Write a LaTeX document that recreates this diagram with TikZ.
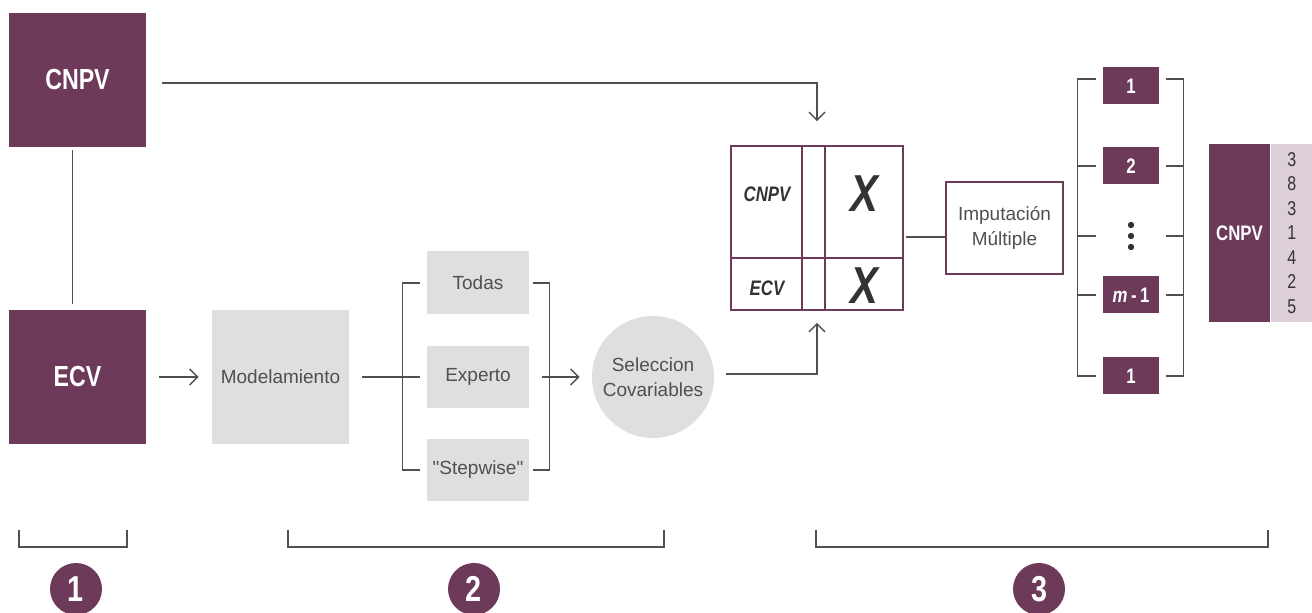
\documentclass[tikz,border=0pt]{standalone}
\usepackage{fontspec}
\setmainfont{Liberation Sans}
\newfontfamily\condfont{Liberation Sans}[FakeStretch=0.8]
\usetikzlibrary{positioning,arrows.meta}
\definecolor{plum}{RGB}{109,58,90}
\definecolor{plumwash}{RGB}{220,207,215}
\definecolor{stone}{RGB}{224,222,223}
\definecolor{ink}{RGB}{80,80,80}

\begin{document}
\begin{tikzpicture}[x=0.5pt, y=-0.5pt,
		link/.style={draw=ink, line width=0.7pt},
		arr/.style={link, -{Straight Barb[length=4pt, width=8pt]}},
		source/.style={fill=plum, text=white, minimum width=68.5pt, minimum height=67pt,
		               inner sep=0pt, font=\condfont\bfseries\fontsize{14.5}{16}\selectfont},
		stage/.style={fill=stone, text=ink, inner sep=0pt, align=center,
		              font=\fontsize{9.5}{12.5}\selectfont},
		cellx/.style={text=black!80, font=\condfont\bfseries\itshape\fontsize{26}{26}\selectfont},
		celltag/.style={text=black!80, font=\condfont\bfseries\itshape\fontsize{10.5}{12}\selectfont},
		run/.style={fill=plum, text=white, minimum width=28pt, minimum height=18.5pt,
		            inner sep=0pt, font=\condfont\bfseries\fontsize{10.5}{12}\selectfont},
		badge/.style={circle, fill=plum, text=white, minimum size=26pt, inner sep=0pt,
		              font=\condfont\bfseries\fontsize{18}{18}\selectfont}]
		\useasboundingbox (0,0) rectangle (1312,613);
		% step 1: sources
		\node[source] (cnpv) at (77.5,80) {\raisebox{-2pt}{CNPV}};
		\node[source] (ecv) at (77.5,377) {\raisebox{-1pt}{ECV}};
		\draw[link, shorten <=1.5pt, shorten >=3pt] ([xshift=-2.5pt]cnpv.south) -- ([xshift=-2.5pt]ecv.north);
		% step 2: models and selection
		\node[stage, minimum width=68.5pt, minimum height=67pt] (model) at (280.5,377) {Modelamiento};
		\node[stage, minimum width=51pt, minimum height=31.5pt] (todas) at (478,283) {Todas};
		\node[stage, minimum width=51pt, minimum height=31pt] (experto) at (478,377) {Experto};
		\node[stage, minimum width=51pt, minimum height=31pt] (stepw) at (478,470) {\textquotedbl Stepwise\textquotedbl};
		\node[stage, circle, minimum size=61pt] (selec) at (653,377) {Seleccion\\Covariables};
		\draw[arr, shorten <=6.5pt, shorten >=6.5pt] (ecv) -- (model);
		\draw[link, shorten <=6.5pt] (model.east) -- ([xshift=-3.5pt]experto.west);
		\draw[link] ([xshift=-3.5pt]todas.west) -- ++(-8.5pt,0) |- ([xshift=-3.5pt]stepw.west);
		\draw[link] ([xshift=2pt]todas.east) -- ++(8pt,0) |- ([xshift=2pt]stepw.east);
		\draw[arr, shorten <=6.5pt, shorten >=6pt] (experto) -- (selec);
		% step 3: joint table and imputations
		\node[draw=plum, line width=0.8pt, minimum width=86pt, minimum height=82pt, inner sep=0pt] (grid) at (817,228) {};
		\draw[plum, line width=1.1pt] (731,258) -- (903,258);
		\draw[plum, line width=0.8pt] (802,146) -- (802,310) (825,146) -- (825,310);
		\node[celltag] (gcnpv) at (767,194) {CNPV};
		\node[cellx] (gx1) at (864,194) {X};
		\node[celltag] (gecv) at (767,288) {ECV};
		\node[cellx] (gx2) at (864,286) {X};
		\draw[arr, shorten <=8pt, shorten >=12pt] ([yshift=-1.5pt]cnpv.east) -| (grid.north);
		\draw[arr, shorten <=6pt, shorten >=6pt] ([yshift=1.5pt]selec.east) -| (grid.south);
		\node[draw=plum, line width=0.8pt, text=ink, align=center, minimum width=58.5pt, minimum height=46pt,
		      inner sep=0pt, font=\fontsize{9.5}{12.5}\selectfont] (imput) at (1004.5,228) {Imputación\\Múltiple};
		\draw[link, shorten <=1pt] ([yshift=-4.5pt]grid.east) -- ([yshift=-4.5pt]imput.west);
		\node[run] (r1) at (1131,86) {1};
		\node[run] (r2) at (1131,166) {2};
		\node[minimum width=28pt, minimum height=18.5pt, inner sep=0pt] (rdots) at (1131,236) {};
		\foreach \d in {-11,0,11}
			\fill[black!80] (1131,236+\d) circle (1.6pt);
		\node[run] (rm) at (1131,295) {\textit{m}\,-\,1};
		\node[run] (rl) at (1131,376) {1};
		\draw[link] ([shift={(-3.5pt,3.5pt)}]r1.west) -- ++(-9pt,0) |- ([xshift=-3.5pt]rl.west);
		\draw[link] ([shift={(3.5pt,3.5pt)}]r1.east) -- ++(8.5pt,0) |- ([xshift=3.5pt]rl.east);
		\foreach \n in {r2,rdots,rm} {
			\draw[link] ([xshift=-3.5pt]\n.west) -- ++(-9pt,0);
			\draw[link] ([xshift=3.5pt]\n.east) -- ++(8.5pt,0);
		}
		\node[source, minimum width=30.5pt, minimum height=89pt, font=\condfont\bfseries\fontsize{10.5}{12}\selectfont] (final) at (1239.5,233) {CNPV};
		\node[fill=plumwash, text=black!80, minimum width=21pt, minimum height=89pt, inner sep=0pt, align=center,
		      font=\condfont\fontsize{10}{12.25}\selectfont, right=0pt of final] (vals) {3\\8\\3\\1\\4\\2\\5};
		% stage markers
		\foreach \a/\b/\c/\n in {19/127/76/1, 288/664/474/2, 816/1268/1039/3} {
			\draw[link] (\a,530) |- (\b,547) -- (\b,530);
			\node[badge] (step\n) at (\c,589) {\n};
		}
	\end{tikzpicture}
\end{document}
